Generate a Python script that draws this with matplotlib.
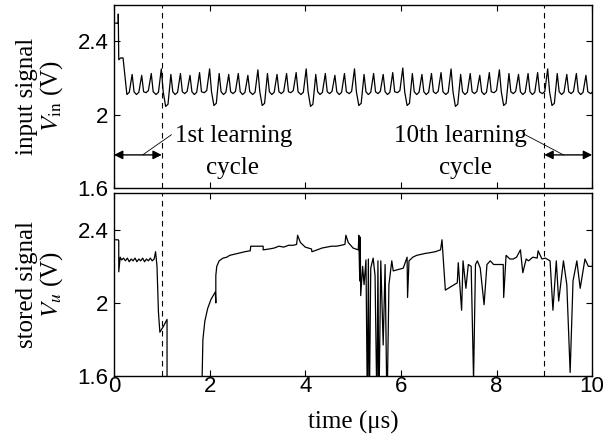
import matplotlib
matplotlib.use('Agg')
import matplotlib.pyplot as plt
import numpy as np

plt.rcParams['mathtext.fontset'] = 'stix'

# input signal V_in: start of each oscillation cycle (us), trough and peak levels (V)
cycle_t = [0.27, 0.47, 0.67, 0.88, 1.08, 1.28, 1.48, 1.68, 1.89, 2.09,
           2.29, 2.49, 2.69, 2.90, 3.10, 3.30, 3.50, 3.70, 3.91, 4.11,
           4.31, 4.51, 4.71, 4.92, 5.12, 5.32, 5.52, 5.72, 5.93, 6.13,
           6.33, 6.53, 6.73, 6.94, 7.14, 7.34, 7.54, 7.74, 7.95, 8.15,
           8.35, 8.55, 8.75, 8.96, 9.16, 9.36, 9.56, 9.76, 9.97]
trough_v = [2.11, 2.11, 2.12, 2.11, 2.045, 2.11, 2.115, 2.11, 2.12, 2.05,
            2.11, 2.115, 2.11, 2.11, 2.05, 2.11, 2.115, 2.12, 2.11, 2.045,
            2.11, 2.115, 2.11, 2.115, 2.05, 2.11, 2.115, 2.11, 2.12, 2.05,
            2.11, 2.11, 2.115, 2.11, 2.045, 2.11, 2.115, 2.11, 2.12, 2.05,
            2.115, 2.11, 2.11, 2.115, 2.05, 2.11, 2.115, 2.11, 2.115]
peak_v = [2.22, 2.215, 2.225, 2.25, 2.22, 2.225, 2.215, 2.23, 2.25, 2.225,
          2.22, 2.225, 2.215, 2.245, 2.225, 2.22, 2.225, 2.23, 2.25, 2.22,
          2.225, 2.215, 2.225, 2.25, 2.22, 2.225, 2.22, 2.23, 2.255, 2.225,
          2.22, 2.225, 2.23, 2.25, 2.22, 2.225, 2.215, 2.23, 2.245, 2.225,
          2.22, 2.225, 2.23, 2.25, 2.225, 2.22, 2.225, 2.215, 2.23]
start_t = [0.0, 0.09, 0.09, 0.10, 0.14, 0.19]
start_v = [2.50, 2.50, 2.55, 2.30, 2.31, 2.31]

# stored signal V_u
t_u = [0.0, 0.09, 0.10, 0.10, 0.13, 0.16, 0.20, 0.24, 0.28, 0.32, 0.36, 0.40,
       0.44, 0.48, 0.52, 0.56, 0.60, 0.64, 0.68, 0.72, 0.76, 0.80, 0.84, 0.87,
       0.90, 0.93, 0.96, 1.03, 1.11, 1.11, 1.84, 1.84, 1.86, 1.90, 1.96, 2.03,
       2.12, 2.13, 2.13, 2.15, 2.20, 2.28, 2.36, 2.42, 2.50, 2.58, 2.66, 2.74,
       2.85, 2.86, 3.12, 3.12, 3.25, 3.35, 3.45, 3.55, 3.65, 3.75, 3.82, 3.84,
       3.90, 4.00, 4.13, 4.14, 4.25, 4.35, 4.45, 4.55, 4.65, 4.75, 4.83, 4.85,
       4.90, 5.00, 5.11, 5.12, 5.14, 5.15, 5.16, 5.20, 5.23, 5.27, 5.30, 5.32,
       5.34, 5.37, 5.42, 5.46, 5.50, 5.52, 5.54, 5.58, 5.63, 5.67, 5.71, 5.75,
       5.81, 5.84, 6.05, 6.13, 6.14, 6.17, 6.25, 6.33, 6.42, 6.50, 6.62, 6.72,
       6.83, 6.86, 6.93, 7.18, 7.20, 7.27, 7.30, 7.36, 7.41, 7.47, 7.52, 7.56,
       7.60, 7.66, 7.74, 7.80, 7.87, 7.94, 8.14, 8.15, 8.20, 8.28, 8.35, 8.42,
       8.50, 8.55, 8.62, 8.67, 8.76, 8.85, 8.87, 8.95, 9.02, 9.12, 9.18, 9.25,
       9.30, 9.40, 9.47, 9.54, 9.60, 9.68, 9.75, 9.85, 9.92, 10.0]
v_u = [2.345, 2.345, 2.34, 2.17, 2.25, 2.235, 2.245, 2.23, 2.245, 2.225, 2.24, 2.23,
       2.245, 2.225, 2.24, 2.23, 2.245, 2.225, 2.24, 2.23, 2.245, 2.23, 2.24, 2.28,
       2.20, 1.95, 1.84, 1.87, 1.91, 1.40, 1.40, 1.55, 1.80, 1.90, 1.97, 2.02,
       2.06, 2.00, 2.15, 2.20, 2.23, 2.245, 2.25, 2.26, 2.265, 2.27, 2.275, 2.28,
       2.285, 2.31, 2.31, 2.29, 2.295, 2.30, 2.31, 2.305, 2.315, 2.315, 2.32, 2.37,
       2.33, 2.305, 2.295, 2.28, 2.29, 2.30, 2.305, 2.31, 2.31, 2.315, 2.32, 2.37,
       2.33, 2.30, 2.29, 2.37, 2.12, 2.36, 2.04, 2.20, 2.10, 2.235, 1.40, 2.24,
       1.40, 2.19, 2.245, 2.15, 1.40, 2.23, 1.40, 2.23, 1.77, 2.21, 1.40, 2.10,
       2.23, 2.175, 2.19, 2.25, 2.03, 2.23, 2.25, 2.26, 2.265, 2.27, 2.275, 2.28,
       2.29, 2.345, 2.07, 2.11, 2.22, 1.96, 2.23, 2.08, 2.21, 2.20, 1.58, 2.21,
       2.23, 2.19, 1.99, 2.21, 2.23, 2.21, 2.21, 2.03, 2.26, 2.24, 2.24, 2.25,
       2.29, 2.165, 2.24, 2.23, 2.25, 2.245, 2.285, 2.24, 2.245, 2.23, 1.96, 2.23,
       2.01, 2.23, 2.10, 1.62, 2.12, 2.23, 2.08, 2.24, 2.20, 2.20]

cycle_lines = [1.0, 9.0]
xticks = [0, 2, 4, 6, 8, 10]
yticks = [1.6, 2, 2.4]
ytick_labels = ['1.6', '2', '2.4']

# build the V_in polyline from the cycle tables
t_in = list(start_t)
v_in = list(start_v)
for t0, lo, hi in zip(cycle_t, trough_v, peak_v):
    t_in += [t0, t0 + 0.05, t0 + 0.11, t0 + 0.15]
    v_in += [lo, lo + 0.012, hi, 2.125]

serif = 'Liberation Serif'
sans = 'Liberation Sans'

fig = plt.figure(figsize=(6.03, 4.43), dpi=100)
ax1 = fig.add_axes([0.189, 0.576, 0.793, 0.413])
ax2 = fig.add_axes([0.189, 0.151, 0.793, 0.413])

ax1.plot(t_in, v_in, color='black', lw=0.9)
ax2.plot(t_u, v_u, color='black', lw=0.9)

for ax in (ax1, ax2):
    for x in cycle_lines:
        ax.axvline(x, color='black', lw=0.8, ls=(0, (5, 4)))
    ax.set_xlim(0, 10)
    ax.set_ylim(1.6, 2.6)
    ax.set_xticks(xticks)
    ax.set_yticks(yticks)
    ax.set_yticklabels(ytick_labels, fontsize=16, family=sans)
    ax.tick_params(direction='in', top=True, right=True, length=4, width=0.8,
                   pad=4)
    for s in ax.spines.values():
        s.set_linewidth(1.0)

ax1.set_xticklabels([])
ax2.set_xticklabels([str(x) for x in xticks], fontsize=16, family=sans)
ax2.tick_params(axis='x', pad=0)

ax1.set_ylabel('input signal\n$V_{\\rm in}$ (V)', fontsize=18, family=serif,
               linespacing=1.0, labelpad=9)
ax2.set_ylabel('stored signal\n$V_u$ (V)', fontsize=18, family=serif,
               linespacing=1.0, labelpad=9)
ax2.set_xlabel('time (\u03bcs)', fontsize=18, family=serif, labelpad=10)

# learning-cycle arrows and labels
arrow_y = 1.78
ax1.annotate('', xy=(0, arrow_y), xytext=(cycle_lines[0], arrow_y),
             arrowprops=dict(arrowstyle='<|-|>', color='black', lw=1.0,
                             mutation_scale=13, shrinkA=0, shrinkB=0))
ax1.annotate('', xy=(cycle_lines[1], arrow_y), xytext=(10, arrow_y),
             arrowprops=dict(arrowstyle='<|-|>', color='black', lw=1.0,
                             mutation_scale=13, shrinkA=0, shrinkB=0))
ax1.plot([0.6, 1.2], [arrow_y, 1.89], color='black', lw=0.6)
ax1.plot([8.6, 9.4], [1.89, arrow_y], color='black', lw=0.6)

ax1.text(2.5, 1.885, '1st learning', fontsize=18, family=serif,
         ha='center', va='center')
ax1.text(2.48, 1.71, 'cycle', fontsize=18, family=serif,
         ha='center', va='center')
ax1.text(7.25, 1.885, '10th learning', fontsize=18, family=serif,
         ha='center', va='center')
ax1.text(7.35, 1.71, 'cycle', fontsize=18, family=serif,
         ha='center', va='center')

fig.savefig('out.png', dpi=100)
